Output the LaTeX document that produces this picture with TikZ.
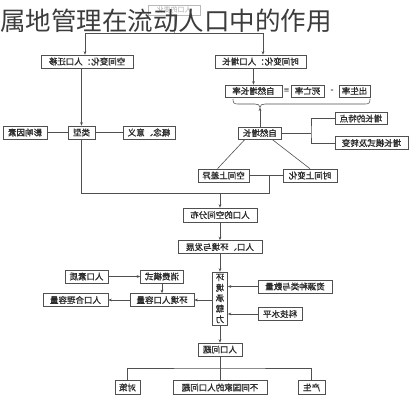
\documentclass[tikz,border=0pt]{standalone}
\usepackage{fontspec}
\usepackage{graphicx}
\setmainfont{Noto Sans CJK SC}
\newfontfamily\cjk{Noto Sans CJK SC}
\newfontfamily\cjkb[FakeBold=1.2]{Noto Sans CJK SC}
\usetikzlibrary{calc,arrows.meta}
\newcommand{\flipt}[1]{\reflectbox{#1}}
\definecolor{lnc}{HTML}{505050}
\definecolor{txc}{HTML}{2A2A2A}
\definecolor{ttc}{HTML}{3C3C3C}
\begin{document}
\begin{tikzpicture}[x=1pt,y=-1pt,
 bx/.style={draw=lnc, line width=0.6pt, text=txc, font=\cjkb\fontsize{8.5}{10}\selectfont, inner sep=0pt, minimum height=13pt},
 ln/.style={draw=lnc, line width=0.6pt},
 ar/.style={ln, -{Stealth[length=3.5pt,width=2.8pt]}}]
\useasboundingbox[fill=white] (0,0) rectangle (415,400);
% top box behind title
\node[bx, draw=gray!55, text=gray!65, minimum width=52pt, minimum height=10pt, font=\cjk\fontsize{7}{8}\selectfont] (top) at (174,10) {\flipt{人口的变化}};
\coordinate (tj) at (174,33);
\coordinate (tl) at (85,33);
\coordinate (tr) at (263,33);
% first row
\node[bx, minimum width=92pt] (spaceA) at (87,61.5) {\flipt{空间变化：人口迁移}};
\node[bx, minimum width=91pt] (timeB) at (260.5,61.5) {\flipt{时间变化：人口增长}};
\draw[ln, draw=gray!70] (top.south) -- (tj);
\draw[ln] (tl) -- (tr);
\draw[ar] (tl) -- (tl |- spaceA.north);
\draw[ar] (tr) -- (tr |- timeB.north);
% title
\node[anchor=west, inner sep=0pt, font=\cjk\fontsize{25.5}{26}\selectfont, text=ttc] (title) at (0,20.5) {属地管理在流动人口中的作用};
% left branch
\node[bx, minimum width=27pt] (leixing) at (81.5,132.5) {\flipt{类型}};
\node[bx, minimum width=44pt] (yingx) at (25,132.5) {\flipt{影响因素}};
\node[bx, minimum width=52pt] (gainian) at (149,132.5) {\flipt{概念、意义}};
\draw[ln] (yingx) -- (leixing);
\draw[ln] (leixing) -- (gainian);
\draw[ar] (spaceA.south -| leixing) -- (leixing.north);
% right branch
\node[bx, minimum width=57pt, minimum height=12pt] (rate) at (253.5,91) {\flipt{自然增长率}};
\node[text=txc, font=\cjkb\fontsize{9}{10}\selectfont, inner sep=0pt] (eq) at (286.5,91) {=};
\node[bx, minimum width=33pt, minimum height=12pt] (death) at (307.5,91) {\flipt{死亡率}};
\node[text=txc, font=\cjkb\fontsize{9}{10}\selectfont, inner sep=0pt] (minus) at (332,91) {-};
\node[bx, minimum width=31pt, minimum height=12pt] (birth) at (354.5,91) {\flipt{出生率}};
\draw[ar] (timeB.south -| rate) -- (rate.north);
\coordinate (btip) at (260,107.5);
\draw[ln] (233,99) .. controls (233,103) and (234,104) .. (238,104) -- (255,104)
  .. controls (258,104) and (260,105) .. (btip)
  .. controls (260,105) and (262,104) .. (265,104) -- (365,104)
  .. controls (369,104) and (370,103) .. (370,99);
\node[bx, minimum width=43pt, minimum height=12pt] (natural) at (260,133) {\flipt{自然增长}};
\draw[ar] (natural.north) -- (btip);
\node[bx, minimum width=52pt, minimum height=12pt] (tez) at (361,118.5) {\flipt{增长的特点}};
\node[bx, minimum width=73pt] (mos) at (371.5,143) {\flipt{增长模式及转变}};
\coordinate (nj) at (311,133);
\draw[ln] (natural.east) -- (nj);
\draw[ln] (tez.west) -| (nj) |- (mos.west);
\node[bx, minimum width=51pt] (kj) at (223.5,175.5) {\flipt{空间上差异}};
\node[bx, minimum width=54pt] (sj) at (310,175.5) {\flipt{时间上变化}};
\draw[ln] ($(natural.south)+(-15,0)$) -- ($(kj.north)+(-6,0)$);
\draw[ln] ($(natural.south)+(12,0)$) -- (sj.north);
\draw[ln] (kj) -- (sj);
\coordinate (mj) at (269,175.5);
\coordinate (bj) at (269,193);
\draw[ln] (mj) -- (bj) -- (bj -| leixing) -- (leixing.south);
% central column
\node[bx, minimum width=74pt, minimum height=14pt] (dist) at (220,215) {\flipt{人口的空间分布}};
\draw[ar] (bj -| dist) -- (dist.north);
\node[bx, minimum width=84pt] (dev) at (220,247) {\flipt{人口、环境与发展}};
\draw[ar] (dist) -- (dev);
\node[bx, minimum width=15pt, minimum height=53pt, align=center, font=\cjkb\fontsize{8.5}{10.5}\selectfont] (carry) at (220,298.5) {\flipt{环}\\\flipt{境}\\\flipt{承}\\\flipt{载}\\\flipt{力}};
\draw[ar] (dev) -- (carry);
\node[bx, minimum width=74pt] (ziy) at (295,286.5) {\flipt{资源种类与数量}};
\node[bx, minimum width=44pt] (keji) at (280,314) {\flipt{科技水平}};
\draw[ar] (ziy.west) -- (ziy.west -| carry.east);
\draw[ar] (keji.west) -- (keji.west -| carry.east);
\node[bx, minimum width=64pt] (rl) at (162,300) {\flipt{环境人口容量}};
\draw[ar] (carry.west |- rl) -- (rl.east);
\node[bx, minimum width=65pt] (heli) at (75.5,300) {\flipt{人口合理容量}};
\draw[ar] (rl) -- (heli);
\node[bx, minimum width=43pt] (xf) at (162,276.5) {\flipt{消费模式}};
\node[bx, minimum width=43pt] (sz) at (86.5,276.5) {\flipt{人口素质}};
\draw[ar] (sz) -- (xf);
\draw[ar] (xf) -- (rl);
% bottom
\node[bx, minimum width=44pt] (wt) at (220,349.5) {\flipt{人口问题}};
\draw[ar] (carry) -- (wt);
\node[bx, minimum width=25pt, minimum height=14pt] (dc) at (127.5,387.5) {\flipt{对策}};
\node[bx, minimum width=94pt, minimum height=14pt] (gj) at (220,387.5) {\flipt{不同国家的人口问题}};
\node[bx, minimum width=27pt, minimum height=14pt] (cs) at (311.5,387.5) {\flipt{产生}};
\coordinate (wj) at (220,368);
\draw[ln] (wt) -- (gj);
\draw[ln] (dc.north) |- (wj) -| (cs.north);
\end{tikzpicture}
\end{document}
